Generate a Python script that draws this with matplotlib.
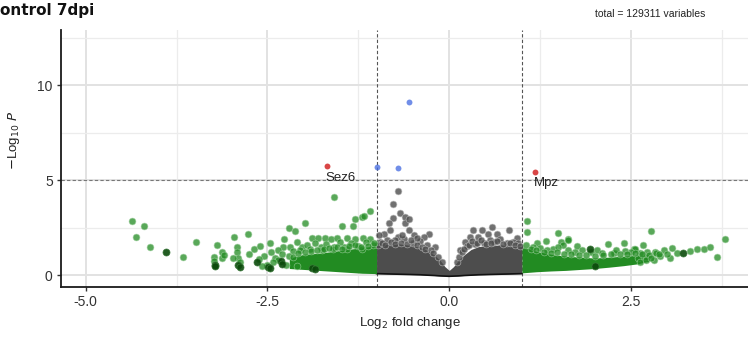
import matplotlib.pyplot as plt
import matplotlib as mpl

mpl.rcParams['font.family'] = ['Liberation Sans', 'DejaVu Sans']

# dense clouds (envelopes of the overplotted mass)
ns_cloud_x = [-1.0, -0.9, -0.8, -0.7, -0.6, -0.5, -0.4, -0.3, -0.2, -0.12, -0.06, 0.0,
              0.06, 0.12, 0.2, 0.3, 0.4, 0.5, 0.6, 0.7, 0.8, 0.9, 1.0]
ns_cloud_top = [1.55, 1.65, 1.6, 1.65, 1.6, 1.55, 1.45, 1.3, 1.05, 0.75, 0.45, 0.25,
                0.45, 0.75, 1.05, 1.35, 1.5, 1.55, 1.55, 1.6, 1.55, 1.5, 1.5]
ns_cloud_bot = [0.08, 0.07, 0.06, 0.05, 0.04, 0.03, 0.02, 0.0, -0.02, -0.04, -0.05, -0.06,
                -0.05, -0.04, -0.02, 0.0, 0.02, 0.03, 0.04, 0.05, 0.06, 0.07, 0.08]

fc_left_x = [-2.2, -2.0, -1.8, -1.6, -1.4, -1.2, -1.0]
fc_left_top = [0.9, 1.1, 1.15, 1.25, 1.35, 1.45, 1.55]
fc_left_bot = [0.35, 0.3, 0.25, 0.2, 0.15, 0.1, 0.08]

fc_right_x = [1.0, 1.2, 1.4, 1.6, 1.8, 2.0, 2.2, 2.4, 2.6, 2.75]
fc_right_top = [1.5, 1.25, 1.1, 1.0, 0.95, 0.9, 0.95, 1.0, 1.05, 1.0]
fc_right_bot = [0.12, 0.18, 0.22, 0.25, 0.3, 0.35, 0.42, 0.5, 0.6, 0.75]

# scattered points
ns_x = [-0.70, -0.775, -0.68, -0.78, -0.83, -0.61, -0.61, -0.55, -0.55, -0.81, -0.90, -0.97,
        -0.28, -0.35, -0.49, -0.70, -0.74, -0.19, -0.40, -0.62, -0.85, -0.95, -0.30, -0.50,
        0.33, 0.45, 0.59, 0.54, 0.66, 0.82, 0.93, 0.79, 0.29, 0.22, 0.40, 0.56, 0.88, 0.70,
        0.48, 0.35, 0.62, 0.95, 0.15, 0.25,
        -0.98, -0.92, -0.88, -0.80, -0.75, -0.66, -0.58, -0.45, -0.38, -0.33, -0.25, -0.22,
        -0.15, -0.10, 0.10, 0.14, 0.18, 0.20, 0.27, 0.32, 0.38, 0.44, 0.50, 0.58, 0.66, 0.74,
        0.84, 0.90, 0.97, -0.52, -0.44, -0.65]
ns_y = [4.42, 3.72, 3.28, 3.02, 2.75, 3.07, 2.72, 2.93, 2.37, 2.37, 2.19, 2.10,
        2.19, 2.02, 2.10, 2.02, 1.84, 1.49, 1.80, 1.90, 1.85, 1.75, 1.60, 1.70,
        2.37, 2.37, 2.51, 2.19, 2.19, 2.37, 1.93, 1.67, 2.02, 1.75, 2.02, 1.84, 1.75, 1.90,
        1.70, 1.65, 1.75, 1.70, 1.30, 1.55,
        1.60, 1.70, 1.60, 1.75, 1.65, 1.70, 1.65, 1.60, 1.50, 1.40, 1.30, 1.15,
        0.95, 0.70, 0.70, 0.95, 1.20, 1.40, 1.60, 1.80, 1.70, 1.85, 1.65, 1.70, 1.80, 1.65,
        1.70, 1.60, 1.55, 1.85, 1.95, 2.10]

fc_x = [-4.37, -4.20, -4.31, -4.11, -3.66, -3.49, -3.20, -3.23, -3.23, -3.13, -3.13, -3.10,
        -2.96, -2.92, -2.92, -2.90, -2.88, -2.77, -2.68, -2.60, -2.46, -2.55, -2.62, -2.40,
        -2.20, -2.12, -1.99, -1.58, -1.48, -1.29, -1.20, -1.09, -1.32, -1.17,
        -2.27, -1.89, -1.80, -1.71, -1.63, -1.54, -1.41, -1.29, -1.18, -1.09,
        -2.28, -2.19, -2.03, -1.77, -1.59, -1.45, -1.25,
        -2.97, -2.75, -2.45, -2.35, -2.30, -2.15, -2.05, -1.95, -1.85, -1.70, -1.50, -1.35,
        -1.15, -1.05, -2.10, -1.92, -1.75, -1.60, -1.40, -1.20,
        -2.20, -2.15, -2.08, -1.98, -1.90, -1.82, -1.72, -1.65, -1.55, -1.48, -1.38, -1.30,
        -1.22, -1.12, -1.04, -2.35, -2.42, -2.25, -2.10, -2.50, -2.58,
        1.07, 1.07, 1.49, 1.33, 1.21, 1.63, 1.54, 1.64, 1.57, 1.76, 1.64, 2.03, 2.18, 2.40,
        2.27, 2.42, 1.43, 1.50, 1.83, 1.73,
        2.77, 2.67, 2.54, 2.83, 2.95, 3.06, 3.13, 3.31, 3.41, 3.50, 3.59, 3.80, 3.68, 2.72,
        2.63, 2.81, 3.04, 2.85, 2.56,
        1.15, 1.25, 1.35, 1.95, 2.10, 2.30, 2.50, 2.90, 3.00, 2.60, 2.70,
        1.05, 1.12, 1.20, 1.30, 1.40, 1.48, 1.58, 1.68, 1.78, 1.88, 2.00, 2.12, 2.22, 2.35,
        2.45, 2.55, 2.65, 2.75, 2.88, 2.62, 2.70, 2.78]
fc_y = [2.84, 2.60, 2.02, 1.47, 0.95, 1.77, 1.61, 0.96, 0.75, 1.20, 0.90, 1.05,
        2.02, 1.50, 1.20, 0.90, 0.70, 2.19, 1.38, 1.53, 1.70, 1.00, 0.85, 0.90,
        2.46, 2.31, 2.72, 4.12, 2.56, 2.95, 3.05, 3.40, 2.56, 3.10,
        1.88, 1.93, 1.93, 1.93, 1.90, 1.95, 1.93, 1.90, 1.93, 1.90,
        1.49, 1.49, 1.49, 1.49, 1.49, 1.50, 1.55,
        0.88, 1.10, 1.20, 1.30, 1.10, 1.25, 1.30, 1.60, 1.70, 1.65, 1.75, 1.70,
        1.75, 1.60, 1.75, 1.35, 1.30, 1.40, 1.35, 1.40,
        1.00, 0.95, 1.15, 1.20, 1.25, 1.30, 1.35, 1.45, 1.50, 1.40, 1.55, 1.60,
        1.50, 1.55, 1.70, 0.80, 0.70, 0.55, 0.50, 0.55, 0.50,
        2.86, 2.28, 2.23, 1.81, 1.67, 1.88, 1.75, 1.84, 1.58, 1.53, 1.32, 1.32, 1.63, 1.70,
        1.14, 1.28, 1.40, 1.49, 1.32, 1.23,
        2.31, 1.58, 1.40, 1.23, 1.32, 1.44, 1.14, 1.26, 1.35, 1.39, 1.47, 1.88, 0.93, 1.23,
        1.14, 0.79, 0.88, 1.18, 1.40,
        1.50, 1.45, 1.30, 1.20, 1.15, 1.30, 1.20, 1.00, 1.10, 0.90, 0.95,
        1.60, 1.40, 1.30, 1.20, 1.15, 1.20, 1.10, 1.10, 1.05, 1.05, 1.00, 1.05, 1.10, 1.10,
        1.12, 1.15, 1.10, 1.05, 1.10, 0.70, 0.80, 0.90]

# overplotted (darker) green clumps
fc_dark_x = [-3.89, -3.22, -3.22, -2.90, -2.88, -2.65, -2.49, -2.47, -2.32, -2.30, -1.89, -1.85,
             1.93, 3.22, 2.00]
fc_dark_y = [1.21, 0.55, 0.50, 0.55, 0.45, 0.70, 0.45, 0.38, 0.75, 0.60, 0.35, 0.30,
             1.40, 1.14, 0.50]

p_x = [-0.56, -0.99, -0.70]
p_y = [9.09, 5.68, 5.65]

both_x = [-1.68, 1.18]
both_y = [5.72, 5.44]
both_lab = ['Sez6', 'Mpz']

fc_cut = 1.0
p_cut = 5.0

fig = plt.figure(figsize=(7.48, 3.37), dpi=100)
ax = fig.add_axes([0.0816, 0.148, 0.933, 0.763])

ax.set_xlim(-5.34, 4.26)
ax.set_ylim(-0.63, 12.9)

ax.set_xticks([-5, -2.5, 0, 2.5])
ax.set_xticklabels(['-5.0', '-2.5', '0.0', '2.5'])
ax.set_xticks([-3.75, -1.25, 1.25, 3.75], minor=True)
ax.set_yticks([0, 5, 10])
ax.set_yticks([2.5, 7.5, 12.5], minor=True)
ax.grid(which='major', color='#e2e2e2', linewidth=1.4, zorder=0)
ax.grid(which='minor', color='#ececec', linewidth=0.9, zorder=0)
ax.set_axisbelow(True)

for s in ['top', 'right']:
    ax.spines[s].set_visible(False)
for s in ['left', 'bottom']:
    ax.spines[s].set_linewidth(1.3)
    ax.spines[s].set_color('#1a1a1a')
ax.tick_params(which='major', length=3, width=1, color='#333333', labelsize=10,
               labelcolor='#333333', pad=3)
ax.tick_params(which='minor', length=0)

ns_col = '#4d4d4d'
fc_col = '#228B22'

ax.fill_between(ns_cloud_x, ns_cloud_bot, ns_cloud_top, color=ns_col, lw=0, zorder=2)
ax.plot(ns_cloud_x, ns_cloud_bot, color='#111111', lw=1.2, zorder=2)
ax.fill_between(fc_left_x, fc_left_bot, fc_left_top, color=fc_col, lw=0, zorder=2)
ax.fill_between(fc_right_x, fc_right_bot, fc_right_top, color=fc_col, lw=0, zorder=2)

ax.scatter(ns_x, ns_y, s=24, color=ns_col, alpha=0.8, edgecolors='#bbbbbb', linewidths=0.5, zorder=3)
ax.scatter(fc_x, fc_y, s=24, color=fc_col, alpha=0.75, edgecolors='#9fd09f', linewidths=0.5, zorder=3)
ax.scatter(fc_dark_x, fc_dark_y, s=26, color='#0b4a0b', alpha=0.9, edgecolors='#3c7a3c',
           linewidths=0.5, zorder=3)
ax.scatter(p_x, p_y, s=18, color='#4169E1', alpha=0.75, lw=0, zorder=4)
ax.scatter(both_x, both_y, s=18, color='#D01818', alpha=0.8, lw=0, zorder=4)

for x, y, t in zip(both_x, both_y, both_lab):
    ax.text(x - 0.02, y - 0.3, t, fontsize=9.5, color='#222222', ha='left', va='top', zorder=5)

ax.axvline(-fc_cut, color='#555555', lw=0.8, ls=(0, (3, 2)), zorder=1)
ax.axvline(fc_cut, color='#555555', lw=0.8, ls=(0, (3, 2)), zorder=1)
ax.axhline(p_cut, color='#777777', lw=0.8, ls=(0, (3, 2)), zorder=1)

ax.set_xlabel('Log$_2$ fold change', fontsize=9.5, color='#222222', labelpad=4)
ax.set_ylabel(r'$-$Log$_{10}$ $\it{P}$', fontsize=9.5, color='#222222')
ax.yaxis.set_label_coords(-0.056, 0.57)

fig.text(0.0, 0.99, 'ontrol 7dpi', fontsize=11, fontweight='bold', ha='left', va='top',
         color='#111111', family='DejaVu Sans')
fig.text(0.869, 0.958, 'total = 129311 variables', fontsize=7.5, ha='center', va='center',
         color='#222222')

fig.savefig('out.png', dpi=100)
